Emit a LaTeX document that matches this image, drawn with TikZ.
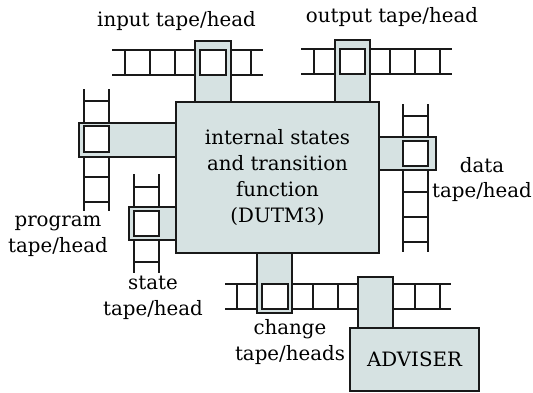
\documentclass[tikz,border=0pt]{standalone}
\usepackage{fontspec}
\setmainfont{DejaVu Serif}
\definecolor{headfill}{RGB}{214,226,226}
\definecolor{ink}{RGB}{25,25,25}
\begin{document}
\begin{tikzpicture}[x=1pt,y=-1pt,
  tapeline/.style={line width=1.7pt, draw=ink},
  headbox/.style={fill=headfill, draw=ink, line width=1.6pt},
  cellbox/.style={fill=white, draw=ink, line width=2pt},
  mainbox/.style={fill=headfill, draw=ink, line width=1.6pt, align=center,
    font=\fontsize{19.8}{25.7}\selectfont, inner sep=0pt},
  lbl/.style={font=\fontsize{19.8}{25.7}\selectfont, align=center, inner sep=0pt}]
\useasboundingbox (0,0) rectangle (533,392);
% ---------- tapes ----------
% input
\draw[tapeline] (112,50) -- (263,50) (112,75) -- (263,75);
\foreach \x in {125,150,175,200,226,251} \draw[tapeline] (\x,50) -- (\x,75);
% output
\draw[tapeline] (301,49) -- (452,49) (301,74) -- (452,74);
\foreach \x in {314,340,365,390,415,440} \draw[tapeline] (\x,49) -- (\x,74);
% program
\draw[tapeline] (84,89) -- (84,211) (109,89) -- (109,211);
\foreach \y in {101,126,152,177,202} \draw[tapeline] (84,\y) -- (109,\y);
% state
\draw[tapeline] (134,174) -- (134,273) (159,174) -- (159,273);
\foreach \y in {187,211,236,262} \draw[tapeline] (134,\y) -- (159,\y);
% data
\draw[tapeline] (403,104) -- (403,252) (428,104) -- (428,252);
\foreach \y in {116,141,166,192,217,242} \draw[tapeline] (403,\y) -- (428,\y);
% change
\draw[tapeline] (225,284) -- (451,284) (225,309) -- (451,309);
\foreach \x in {237,262,288,313,338,363,389,415,440} \draw[tapeline] (\x,284) -- (\x,309);
% ---------- heads ----------
\draw[headbox] (195,41) rectangle (231,103);
\draw[cellbox] (200,50) rectangle (226,75);
\draw[headbox] (335,40) rectangle (370,103);
\draw[cellbox] (340,49) rectangle (365,74);
\draw[headbox] (79,123) rectangle (177,157);
\draw[cellbox] (84,126) rectangle (109,152);
\draw[headbox] (129,207) rectangle (177,240);
\draw[cellbox] (134,211) rectangle (159,236);
\draw[headbox] (378,137) rectangle (436,170);
\draw[cellbox] (403,141) rectangle (428,166);
\draw[headbox] (257,252) rectangle (292,313);
\draw[cellbox] (262,284) rectangle (288,309);
\draw[headbox] (358,277) rectangle (393,330);
% ---------- boxes ----------
\node[mainbox, minimum width=203pt, minimum height=151pt] (dutm) at (277.5,177.5)
  {internal states\\and transition\\function\\(DUTM3)};
\node[mainbox, minimum width=129pt, minimum height=63pt] (adviser) at (414.5,359.5) {ADVISER};
% ---------- labels ----------
\node[lbl] (inlbl) at (176.5,21) {input tape/head};
\node[lbl] (outlbl) at (392,17) {output tape/head};
\node[lbl] (datalbl) at (482,179.5) {data\\tape/head};
\node[lbl] (proglbl) at (58,236) {program\\tape/head};
\node[lbl] (statelbl) at (153,298) {state\\tape/head};
\node[lbl] (chglbl) at (290,342) {change\\tape/heads};
\end{tikzpicture}
\end{document}
